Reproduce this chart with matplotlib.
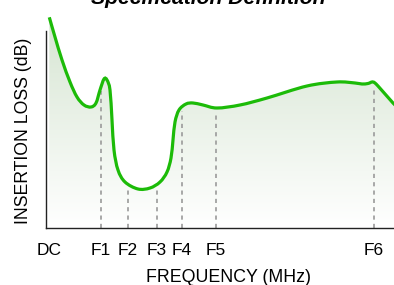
import numpy as np
import matplotlib
matplotlib.use("Agg")
import matplotlib.pyplot as plt
from matplotlib.colors import LinearSegmentedColormap
from matplotlib.path import Path
from matplotlib.patches import PathPatch

# Frequency axis (arbitrary units) and insertion-loss curve (arbitrary units)
freq = [3.3, 9, 16, 24, 31, 38, 45, 50, 54, 58, 61, 64, 66, 68, 72, 79,
        92, 104, 114, 121, 125, 127, 129, 133, 140, 147, 157, 171, 194, 221,
        261, 291, 309, 316, 322, 327, 332, 347, 351]
loss = [210.7, 191, 168, 146, 131, 123, 121, 125, 138, 149, 148, 138, 108,
        78, 58, 46, 39, 40, 46, 56, 70, 88, 106, 118, 124, 125, 123, 120,
        123, 130, 142, 146, 145, 144, 144.5, 146, 142, 125, 122]

tick_names = ["DC", "F1", "F2", "F3", "F4", "F5", "F6"]
tick_pos = [3, 55, 82, 111, 136, 170, 328]
marker_pos = [55, 82, 111, 136, 170, 328]

fig = plt.figure(figsize=(3.94, 2.85), dpi=100)
ax = fig.add_axes([46/394, 57/285, 1 - 46/394, 218/285])
ax.set_xlim(0, 348)
ax.set_ylim(0, 218)
ax.patch.set_alpha(0)

# smooth rendering of the curve through the read points (Catmull-Rom -> Bezier)
P = np.column_stack([freq, loss]).astype(float)
n = len(P)
verts = [P[0]]
codes = [Path.MOVETO]
for i in range(n - 1):
    p0 = P[i - 1] if i > 0 else P[i]
    p1, p2 = P[i], P[i + 1]
    p3 = P[i + 2] if i + 2 < n else P[i + 1]
    c1 = p1 + (p2 - p0) / 6.0
    c2 = p2 - (p3 - p1) / 6.0
    verts += [c1, c2, p2]
    codes += [Path.CURVE4] * 3
curve = Path(verts, codes)
fill_path = Path(verts + [(P[-1, 0], 0), (P[0, 0], 0), (P[0, 0], 0)],
                 codes + [Path.LINETO, Path.LINETO, Path.CLOSEPOLY])

green = "#1cbb08"
clip = PathPatch(fill_path, transform=ax.transData, fc="none", ec="none")
ax.add_patch(clip)
cmap = LinearSegmentedColormap.from_list("g", ["#ffffff", "#d6e5d2"])
grad = np.linspace(0, 1, 256).reshape(-1, 1)
im = ax.imshow(grad, cmap=cmap, origin="lower", aspect="auto",
               extent=[0, 348, 0, 211], zorder=1)
im.set_clip_path(clip)

for xp in marker_pos:
    top = np.interp(xp, freq, loss) - 4
    ax.plot([xp, xp], [0, top], color="#9a9a9a", lw=1.2,
            dashes=(2.5, 2.5), zorder=2)

ax.add_patch(PathPatch(curve, fc="none", ec=green, lw=2.3, zorder=3,
                       clip_on=False, capstyle="butt"))

for s in ["top", "right"]:
    ax.spines[s].set_visible(False)
ax.spines["left"].set_bounds(0, 197)
for s in ["left", "bottom"]:
    ax.spines[s].set_color("#222222")
    ax.spines[s].set_linewidth(1.0)

ax.set_yticks([])
ax.set_xticks(tick_pos)
ax.set_xticklabels(tick_names)
ax.tick_params(axis="x", length=0, pad=10.5, labelsize=12.5)
for lbl in ax.get_xticklabels():
    lbl.set_fontfamily("Liberation Sans")

ax.set_xlabel("FREQUENCY (MHz)", fontsize=12.8, family="Liberation Sans")
ax.xaxis.set_label_coords((229 - 46) / 348, -(277 - 228) / 218)
ax.xaxis.label.set_va("center")
ax.set_ylabel("INSERTION LOSS (dB)", fontsize=12.7, family="Liberation Sans")
ax.yaxis.set_label_coords(-(46 - 24) / 348, (228 - 131) / 218)
ax.yaxis.label.set_va("center")

fig.text(208 / 394, 1 - 4 / 285, "Specification Definition",
         ha="center", va="baseline", fontsize=15.2, fontweight="bold",
         fontstyle="italic", family="Liberation Sans")

fig.savefig("out.png", dpi=100)
